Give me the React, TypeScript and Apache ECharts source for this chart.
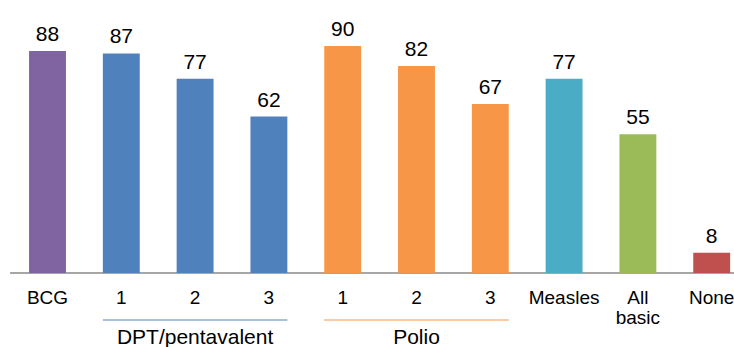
import React, { useEffect, useRef } from "react";
import * as echarts from "echarts";

const categories = ["BCG", "1", "2", "3", "1", "2", "3", "Measles", "All\nbasic", "None"];
const values = [88, 87, 77, 62, 90, 82, 67, 77, 55, 8];
const barColors = ["#8064A2", "#4F81BD", "#4F81BD", "#4F81BD", "#F79646", "#F79646", "#F79646", "#4BACC6", "#9BBB59", "#C0504D"];
const groups = [
  { name: "DPT/pentavalent", from: 1, to: 3, color: "#4F81BD" },
  { name: "Polio", from: 4, to: 6, color: "#F79646" },
];

const FONT = "Liberation Sans, Arial, sans-serif";

export default function App() {
  const ref = useRef<HTMLDivElement>(null);
  useEffect(() => {
    document.body.style.margin = "0";
    const chart = echarts.init(ref.current!, null, { renderer: "svg" });
    chart.setOption({
      animation: false,
      grid: { left: 10.6, right: -14.6, top: 20.7, bottom: 74, containLabel: false, outerBoundsMode: "none" },
      xAxis: {
        type: "category",
        data: categories,
        axisLine: { lineStyle: { color: "#898989", width: 1.5 } },
        axisTick: { show: false },
        axisLabel: { color: "#000", fontSize: 19, fontFamily: FONT, margin: 14, lineHeight: 20, interval: 0 },
      },
      yAxis: { type: "value", min: 0, max: 100, show: false, splitLine: { show: false } },
      series: [
        {
          type: "bar",
          barWidth: "50%",
          data: values.map((v, i) => ({ value: v, itemStyle: { color: barColors[i] } })),
          label: { show: true, position: "top", distance: 7, color: "#000", fontSize: 21, fontFamily: FONT },
        },
      ],
    });
    const half = (chart.convertToPixel({ xAxisIndex: 0 }, 1) - chart.convertToPixel({ xAxisIndex: 0 }, 0)) / 4;
    const graphics: any[] = [];
    groups.forEach((g) => {
      const x1 = chart.convertToPixel({ xAxisIndex: 0 }, g.from) - half;
      const x2 = chart.convertToPixel({ xAxisIndex: 0 }, g.to) + half;
      graphics.push({ type: "line", shape: { x1, y1: 320, x2, y2: 320 }, style: { stroke: g.color, lineWidth: 1.2 } });
      graphics.push({
        type: "text",
        x: (x1 + x2) / 2,
        y: 336.5,
        style: { text: g.name, fill: "#000", fontSize: 21, fontFamily: FONT, align: "center", verticalAlign: "middle" },
      });
    });
    chart.setOption({ graphic: graphics });
    return () => chart.dispose();
  }, []);
  return <div ref={ref} style={{ width: 734, height: 347 }} />;
}
